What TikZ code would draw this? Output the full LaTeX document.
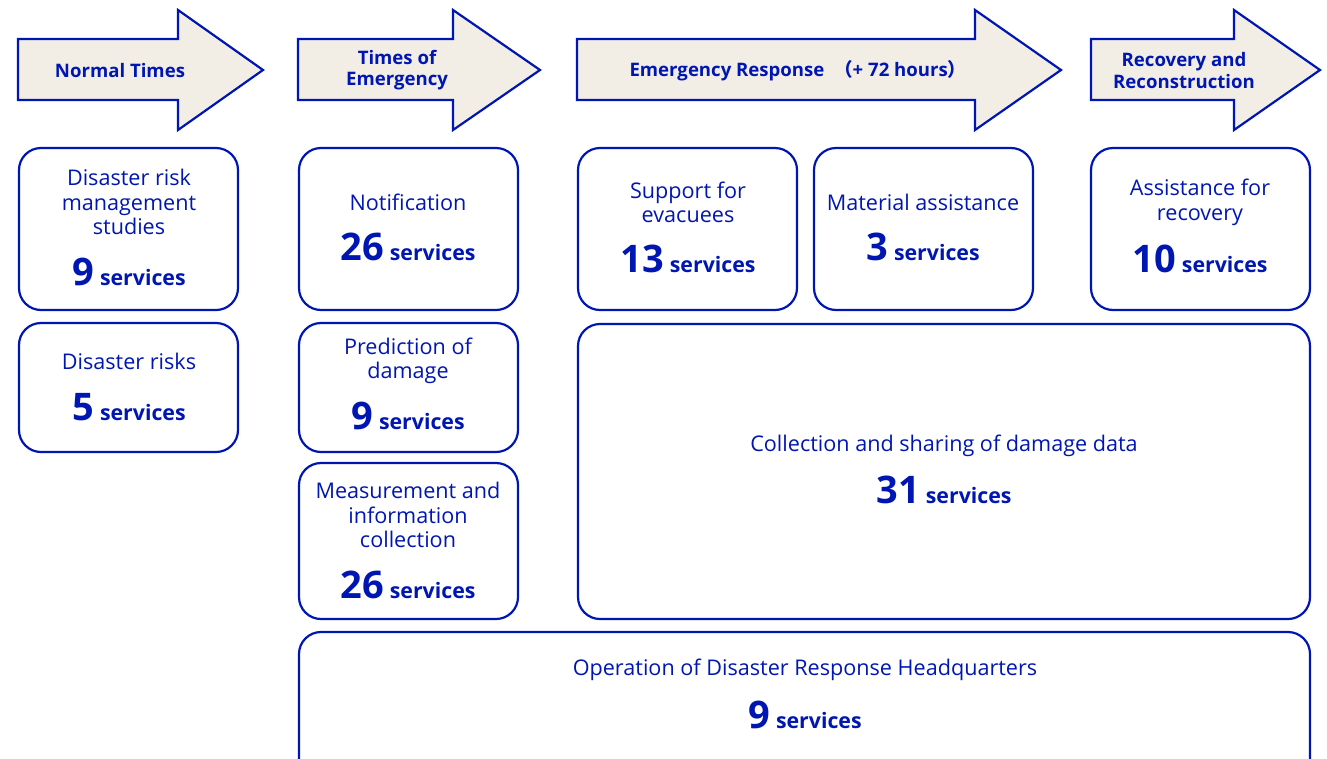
\documentclass[tikz,border=0pt]{standalone}
\usepackage{fontspec}
\setmainfont{Open Sans}
\newfontfamily\cjkfont{Noto Sans CJK JP}
\definecolor{bl}{RGB}{0,22,178}
\definecolor{beige}{RGB}{242,238,230}
\begin{document}
\begin{tikzpicture}[x=1pt,y=-1pt,
  arr/.style={draw=bl,fill=beige,line width=2.2pt,line join=miter},
  arrtxt/.style={text=bl,font=\fontsize{18.6}{21.5}\selectfont\bfseries,align=center,inner sep=0pt},
  card/.style={draw=bl,line width=2.2pt,rounded corners=22pt},
  lbl/.style={text=bl,font=\fontsize{21.6}{24.5}\selectfont,align=center,inner sep=0pt},
  cnt/.style={text=bl,inner sep=0pt}]
\useasboundingbox (0,0) rectangle (1327,758);
\newcommand{\svc}[1]{{\fontsize{38}{40}\selectfont\bfseries #1}\hspace{6pt}{\fontsize{21.3}{24}\selectfont\bfseries services}}
% arrows
\draw[arr] (18,39) -- (178,39) -- (178,10) -- (263,70) -- (178,130) -- (178,100) -- (18,100) -- cycle;
\draw[arr] (298,39) -- (453,39) -- (453,10) -- (540,70) -- (453,130) -- (453,100) -- (298,100) -- cycle;
\draw[arr] (577,39) -- (975,39) -- (975,10) -- (1061,70) -- (975,130) -- (975,100) -- (577,100) -- cycle;
\draw[arr] (1091,39) -- (1234,39) -- (1234,10) -- (1320,70) -- (1234,130) -- (1234,100) -- (1091,100) -- cycle;
\node[arrtxt] (a1) at (120,71) {Normal Times};
\node[arrtxt] (a2) at (397,70) {Times of\\Emergency};
\node[arrtxt] (a3) at (798,71) {Emergency Response\ \ {\cjkfont （}+ 72 hours{\cjkfont ）}};
\node[arrtxt] (a4) at (1184,70.5) {Recovery and\\Reconstruction};
% cards
\draw[card] (19,148) rectangle (238,310);
\draw[card] (299,148) rectangle (518,310);
\draw[card] (578,148) rectangle (797,310);
\draw[card] (814,148) rectangle (1033,310);
\draw[card] (1091,148) rectangle (1310,310);
\draw[card] (19,323) rectangle (238,452);
\draw[card] (299,323) rectangle (518,452);
\draw[card] (578,324) rectangle (1310,619);
\draw[card] (299,463) rectangle (518,619);
\draw[card] (299,632) rectangle (1310,790);
% labels
\node[lbl] (t1) at (129,202) {Disaster risk\\management\\studies};
\node[cnt] (n1) at (129,272) {\svc{9}};
\node[lbl] (t2) at (408,202) {Notification};
\node[cnt] (n2) at (408,247) {\svc{26}};
\node[lbl] (t3) at (688,202.5) {Support for\\evacuees};
\node[cnt] (n3) at (688,259) {\svc{13}};
\node[lbl] (t4) at (923,202) {Material assistance};
\node[cnt] (n4) at (923,247) {\svc{3}};
\node[lbl] (t5) at (1200,202.5) {Assistance for\\recovery};
\node[cnt] (n5) at (1200,259) {\svc{10}};
\node[lbl] (t6) at (129,361) {Disaster risks};
\node[cnt] (n6) at (129,407) {\svc{5}};
\node[lbl] (t7) at (408,361) {Prediction of\\damage};
\node[cnt] (n7) at (408,416) {\svc{9}};
\node[lbl] (t8) at (944,446) {Collection and sharing of damage data};
\node[cnt] (n8) at (944,490) {\svc{31}};
\node[lbl] (t9) at (408,515) {Measurement and\\information\\collection};
\node[cnt] (n9) at (408,585) {\svc{26}};
\node[lbl] (t10) at (805,670) {Operation of Disaster Response Headquarters};
\node[cnt] (n10) at (805,715) {\svc{9}};
\end{tikzpicture}
\end{document}
